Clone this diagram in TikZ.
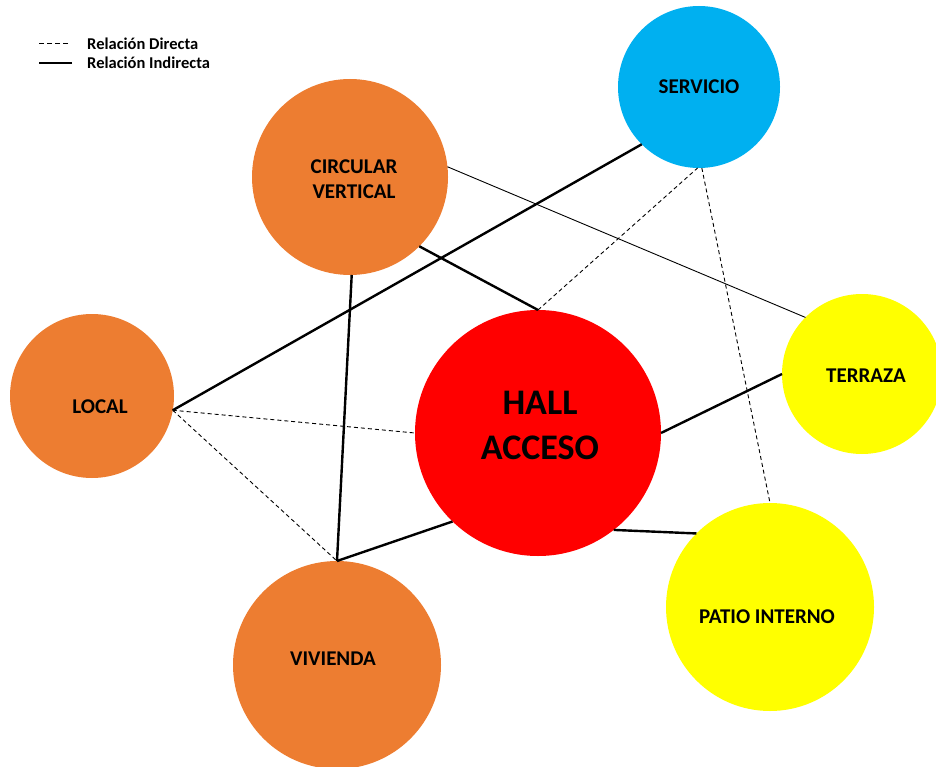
\documentclass[tikz,border=0pt]{standalone}
\usepackage{fontspec}
\setmainfont{Carlito}
\usetikzlibrary{positioning}

\definecolor{naranja}{HTML}{ED7D31}
\definecolor{rojo}{HTML}{FF0000}
\definecolor{celeste}{HTML}{00B0F0}
\definecolor{amarillo}{HTML}{FFFF00}

\tikzset{
  espacio/.style={circle, draw=none, minimum size=#1, inner sep=0pt, outer sep=0pt},
  rotulo/.style={font=\bfseries\fontsize{21}{25}\selectfont, align=center, inner sep=0pt},
  leyenda/.style={font=\bfseries\fontsize{16.5}{19}\selectfont, anchor=west, inner sep=0pt},
  directa/.style={line width=0.9pt, dash pattern=on 4pt off 3pt},
  indirecta/.style={line width=2.4pt},
  fina/.style={line width=0.9pt},
}

\begin{document}
\begin{tikzpicture}[x=1pt, y=-1pt]
      \useasboundingbox (0,0) rectangle (936,767);

      % leyenda
      \node[leyenda] (ley-dir) at (87,44) {Relación Directa};
      \node[leyenda] (ley-ind) at (87,63) {Relación Indirecta};
      \draw[line width=1pt, dash pattern=on 5pt off 3pt] ([xshift=-19pt]ley-dir.west) -- ++(-29,0);
      \draw[line width=2pt] ([xshift=-15pt]ley-ind.west) -- ++(-33,0);

      % espacios
      \node[espacio=162pt, fill=celeste, label={[rotulo]center:SERVICIO}] (servicio) at (699,87) {};
      \node[espacio=196pt, fill=naranja, label={[rotulo, xshift=4pt, yshift=-2pt]center:CIRCULAR\\VERTICAL}] (circular) at (350,177) {};
      \node[espacio=164pt, fill=naranja, label={[rotulo, xshift=8pt, yshift=-11pt]center:LOCAL}] (local) at (92,396) {};
      \node[espacio=246pt, fill=rojo, label={[rotulo, font=\bfseries\fontsize{36}{45}\selectfont, xshift=2pt, yshift=8pt]center:HALL\\ACCESO}] (hall) at (538,433) {};
      \node[espacio=160pt, fill=amarillo, label={[rotulo, xshift=4pt, yshift=-2pt]center:TERRAZA}] (terraza) at (862,374) {};
      \node[espacio=208pt, fill=amarillo, label={[rotulo, xshift=-3pt, yshift=-10pt]center:PATIO INTERNO}] (patio) at (770,607) {};
      \node[espacio=208pt, fill=naranja, label={[rotulo, xshift=-4pt, yshift=6pt]center:VIVIENDA}] (vivienda) at (337,665) {};

      % relaciones
      \draw[indirecta] (servicio.225) -- (local.-10);
      \draw[directa] (local.-10) -- (hall.west);
      \draw[directa] (local.-10) -- (vivienda.90);
      \draw[indirecta] (circular.-89) -- (vivienda.90);
      \draw[indirecta] (vivienda.90) -- (hall.226);
      \draw[indirecta] (circular.-45) -- (hall.north);
      \draw[directa] (hall.north) -- (servicio.-91);
      \draw[fina] (circular.6) -- (terraza.135);
      \draw[directa] (servicio.-88) -- (patio.north);
      \draw[indirecta] (hall.east) -- (terraza.west);
      \draw[indirecta] (hall.-52) -- (patio.135);
\end{tikzpicture}
\end{document}
